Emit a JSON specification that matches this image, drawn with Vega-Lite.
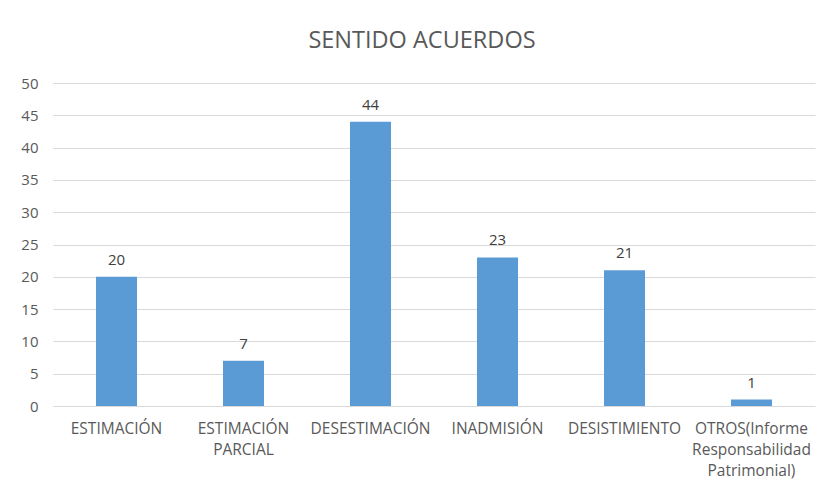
{
  "$schema": "https://vega.github.io/schema/vega-lite/v6.json",
  "autosize": "none",
  "width": 762,
  "height": 323,
  "padding": {"left": 53, "top": 83, "right": 11, "bottom": 83},
  "background": "white",
  "title": {
    "text": "SENTIDO ACUERDOS",
    "fontSize": 23.5,
    "font": "Open Sans",
    "fontWeight": "normal",
    "color": "#595959",
    "anchor": "middle",
    "offset": 24,
    "dx": -12
  },
  "data": {
    "values": [
      {"cat": "ESTIMACIÓN", "n": 20},
      {"cat": "ESTIMACIÓN|PARCIAL", "n": 7},
      {"cat": "DESESTIMACIÓN", "n": 44},
      {"cat": "INADMISIÓN", "n": 23},
      {"cat": "DESISTIMIENTO", "n": 21},
      {"cat": "OTROS(Informe|Responsabilidad|Patrimonial)", "n": 1}
    ]
  },
  "encoding": {
    "x": {
      "field": "cat",
      "type": "nominal",
      "sort": null,
      "scale": {"paddingInner": 0.677, "paddingOuter": 0.3385},
      "axis": {
        "title": null,
        "labelAngle": 0,
        "labelExpr": "split(datum.label, '|')",
        "labelFont": "Open Sans",
        "labelFontSize": 15.5,
        "labelColor": "#595959",
        "labelPadding": 15,
        "labelLineHeight": 21,
        "ticks": false,
        "domain": false
      }
    },
    "y": {
      "field": "n",
      "type": "quantitative",
      "scale": {"domain": [0, 50]},
      "axis": {
        "title": null,
        "values": [0, 5, 10, 15, 20, 25, 30, 35, 40, 45, 50],
        "labelFont": "Open Sans",
        "labelFontSize": 15,
        "labelColor": "#595959",
        "labelPadding": 15,
        "ticks": false,
        "domain": false,
        "gridColor": "#d9d9d9",
        "gridWidth": 1
      }
    }
  },
  "layer": [
    {"mark": {"type": "bar", "color": "#5B9BD5"}},
    {
      "mark": {
        "type": "text",
        "baseline": "bottom",
        "dy": -9,
        "font": "Open Sans",
        "fontSize": 15,
        "color": "#404040"
      },
      "encoding": {"text": {"field": "n", "type": "quantitative"}}
    }
  ],
  "config": {"view": {"stroke": null}}
}
